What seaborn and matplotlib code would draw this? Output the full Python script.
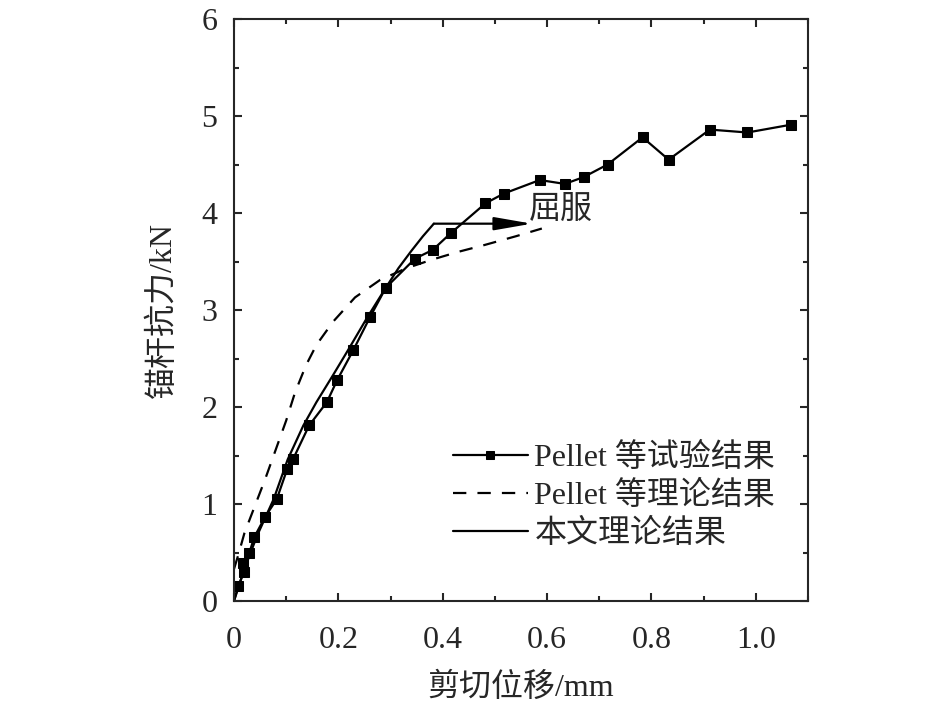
import numpy as np
import pandas as pd
import matplotlib
matplotlib.use('Agg')
import matplotlib.pyplot as plt
import seaborn as sns
from matplotlib.ticker import MultipleLocator, FixedLocator

# Pellet 等试验结果 (square markers)
exp_x = [0, 0.008, 0.019, 0.018, 0.029, 0.039, 0.060, 0.082, 0.102, 0.113, 0.144,
         0.178, 0.198, 0.229, 0.261, 0.291, 0.347, 0.381, 0.415, 0.482, 0.517,
         0.586, 0.634, 0.670, 0.716, 0.783, 0.833, 0.912, 0.984, 1.067]
exp_y = [0, 0.15, 0.30, 0.39, 0.49, 0.66, 0.87, 1.05, 1.36, 1.46, 1.81,
         2.05, 2.28, 2.59, 2.93, 3.23, 3.53, 3.62, 3.79, 4.10, 4.20,
         4.34, 4.30, 4.37, 4.50, 4.78, 4.55, 4.86, 4.83, 4.91]

# Pellet 等理论结果 (dashed)
pel_x = [0, 0.008, 0.02, 0.04, 0.06, 0.08, 0.1, 0.117, 0.138, 0.158, 0.19,
         0.232, 0.28, 0.33, 0.38, 0.43, 0.48, 0.54, 0.59]
pel_y = [0.33, 0.47, 0.7, 0.98, 1.26, 1.56, 1.86, 2.15, 2.43, 2.64, 2.88,
         3.13, 3.31, 3.43, 3.52, 3.60, 3.67, 3.76, 3.84]

# 本文理论结果 (solid)
our_x = [0, 0.02, 0.044, 0.076, 0.103, 0.133, 0.158, 0.19, 0.219, 0.255,
         0.291, 0.315, 0.34, 0.362, 0.383]
our_y = [0, 0.33, 0.67, 1.05, 1.46, 1.81, 2.05, 2.33, 2.59, 2.92,
         3.23, 3.43, 3.61, 3.76, 3.89]

yield_x = [0.383, 0.571]
yield_y = 3.89

labels = ['Pellet 等试验结果', 'Pellet 等理论结果', '本文理论结果']

sns.set_style('ticks')
plt.rcParams['font.family'] = ['Liberation Serif', 'Noto Sans CJK SC']
plt.rcParams['font.size'] = 23

fig = plt.figure(figsize=(9.45, 7.09), dpi=100)
ax = fig.add_axes([0.2476, 0.1523, 0.6074, 0.8209])

df_exp = pd.DataFrame({'x': exp_x, 'y': exp_y})
df_pel = pd.DataFrame({'x': pel_x, 'y': pel_y})
df_our = pd.DataFrame({'x': our_x, 'y': our_y})

sns.lineplot(data=df_exp, x='x', y='y', ax=ax, sort=False, estimator=None,
             color='black', lw=1.6, marker='s', markersize=7.5, mec='black',
             markevery=list(range(1, len(exp_x))), label=labels[0])
sns.lineplot(data=df_pel, x='x', y='y', ax=ax, sort=False, estimator=None,
             color='black', lw=1.6, dashes=(6, 5), label=labels[1])
sns.lineplot(data=df_our, x='x', y='y', ax=ax, sort=False, estimator=None,
             color='black', lw=1.6, label=labels[2])

# yield arrow
ax.annotate('', xy=(yield_x[1], yield_y), xytext=(yield_x[0], yield_y),
            arrowprops=dict(arrowstyle='-|>,head_length=2.3,head_width=0.4',
                            mutation_scale=10, color='black', lw=1.6,
                            shrinkA=0, shrinkB=0))
ax.text(0.565, 4.03, '屈服', ha='left', va='center', fontsize=23)

ax.set_xlim(0, 1.1)
ax.set_ylim(0, 6)
ax.xaxis.set_major_locator(FixedLocator([0, 0.2, 0.4, 0.6, 0.8, 1.0]))
ax.set_xticklabels(['0', '0.2', '0.4', '0.6', '0.8', '1.0'])
ax.xaxis.set_minor_locator(MultipleLocator(0.1))
ax.yaxis.set_major_locator(MultipleLocator(1))
ax.yaxis.set_minor_locator(MultipleLocator(0.5))
ax.tick_params(which='both', direction='in', top=True, right=True, width=1.5,
               labelsize=23)
ax.tick_params(which='major', length=6)
ax.tick_params(which='minor', length=3.5)
ax.tick_params(axis='y', pad=12)
ax.tick_params(axis='x', pad=18)
for s in ax.spines.values():
    s.set_linewidth(1.5)

ax.set_xlabel('剪切位移/mm', fontsize=23, labelpad=13)
ax.set_ylabel('锚杆抗力/kN', fontsize=23, labelpad=17)

ax.legend(loc='upper left', bbox_to_anchor=(0.3815, 0.271), frameon=False,
          fontsize=23, borderpad=0, borderaxespad=0, handlelength=2.35,
          handletextpad=0.2, labelspacing=0.24, markerscale=0.7)

fig.savefig('out.png', dpi=100)
